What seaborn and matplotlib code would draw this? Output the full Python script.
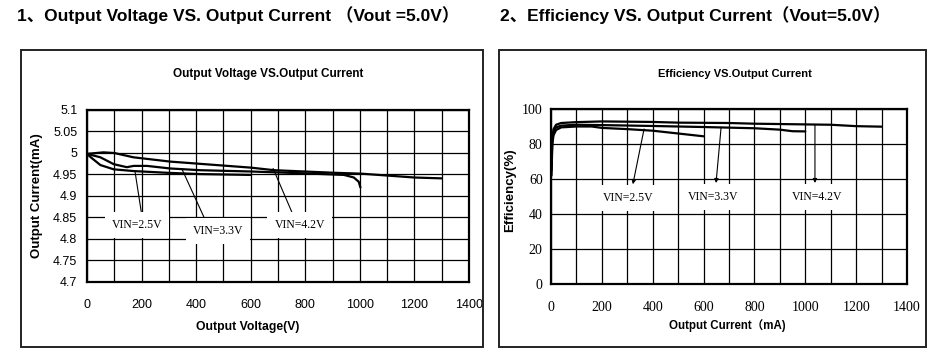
import numpy as np
import pandas as pd
import seaborn as sns
import matplotlib.pyplot as plt
from matplotlib.patches import Rectangle
from matplotlib.ticker import FuncFormatter, MultipleLocator

# Output voltage vs output current (left chart)
v25_x = [0, 12, 49, 98, 171, 293, 415, 600]
v25_y = [4.998, 4.991, 4.972, 4.962, 4.958, 4.954, 4.951, 4.949]
v33_x = [0, 49, 98, 146, 171, 220, 305, 415, 600, 783, 942, 978, 996, 1002]
v33_y = [4.998, 4.990, 4.974, 4.967, 4.970, 4.970, 4.964, 4.960, 4.957, 4.953, 4.949, 4.943, 4.933, 4.920]
v42_x = [0, 60, 100, 170, 305, 600, 686, 906, 1004, 1200, 1300]
v42_y = [4.998, 5.0015, 5.000, 4.990, 4.980, 4.966, 4.960, 4.954, 4.952, 4.943, 4.941]

# Efficiency vs output current (right chart)
e25_x = [2, 5, 10, 20, 40, 100, 160, 200, 300, 400, 500, 600]
e25_y = [62, 80, 85, 88, 89.5, 90, 90, 89.2, 88.5, 87.6, 86.0, 84.4]
e33_x = [2, 5, 10, 20, 40, 100, 200, 400, 600, 800, 900, 950, 1000]
e33_y = [65, 82, 87, 89.5, 90.5, 91, 90.8, 90.3, 89.7, 89.0, 88.2, 87.3, 87.2]
e42_x = [2, 5, 10, 20, 40, 100, 200, 400, 500, 700, 800, 1000, 1100, 1200, 1300]
e42_y = [68, 84, 88.5, 91, 92, 92.5, 92.9, 92.6, 92.2, 92.0, 91.6, 91.2, 91.0, 90.2, 89.9]

labels = ['VIN=2.5V', 'VIN=3.3V', 'VIN=4.2V']

# label text position, arrow start (on curve), arrow end (at label)
left_notes = [((183, 4.833), (176, 4.957), (203, 4.846)),
              ((480, 4.819), (347, 4.964), (440, 4.835)),
              ((780, 4.833), (682, 4.964), (762, 4.846))]
right_notes = [((303, 49), (366, 88.6), (322, 57)),
               ((637, 49.7), (669, 89.7), (649, 57.7)),
               ((1046, 49.7), (1038, 90.8), (1038, 57.7))]

sns.set_style('white')
sans = ['Liberation Sans', 'DejaVu Sans']
head = ['Liberation Sans', 'Noto Sans CJK SC', 'DejaVu Sans']
plt.rcParams['font.family'] = sans
plt.rcParams['text.color'] = 'black'
plt.rcParams['xtick.color'] = 'black'
plt.rcParams['ytick.color'] = 'black'

W, H = 942, 356
fig = plt.figure(figsize=(W / 100, H / 100), dpi=100)


def px_axes(x0, y0, x1, y1):
    return fig.add_axes([x0 / W, 1 - y1 / H, (x1 - x0) / W, (y1 - y0) / H])


def px_text(x, y, s, **kw):
    fig.text(x / W, 1 - y / H, s, ha='center', va='center', **kw)


# panel frames
for x0, y0, x1, y1 in [(21, 50, 483, 347), (499, 50, 926, 347)]:
    fig.patches.append(Rectangle((x0 / W, 1 - y1 / H), (x1 - x0) / W, (y1 - y0) / H,
                                 transform=fig.transFigure, fill=False, lw=1.4,
                                 edgecolor='#222222'))

px_text(238, 15, '1、Output Voltage VS. Output Current （Vout =5.0V）',
        fontsize=12.5, fontweight='bold', family=head)
px_text(695, 15, '2、Efficiency VS. Output Current（Vout=5.0V）',
        fontsize=12.5, fontweight='bold', family=head)


def style_axes(ax, ymaj, xpad, ypad):
    ax.xaxis.set_major_locator(MultipleLocator(200))
    ax.xaxis.set_minor_locator(MultipleLocator(100))
    ax.yaxis.set_major_locator(MultipleLocator(ymaj))
    ax.grid(True, which='both', color='black', lw=0.9)
    ax.tick_params(which='both', length=0)
    ax.tick_params(axis='x', pad=xpad)
    ax.tick_params(axis='y', pad=ypad)
    for sp in ax.spines.values():
        sp.set_visible(True)
        sp.set_color('black')
        sp.set_linewidth(1.6)
    ax.set_xlabel('')
    ax.set_ylabel('')


def add_notes(ax, notes, fs, family):
    for lab, (txt, start, end) in zip(labels, notes):
        ax.annotate('', xy=end, xytext=start,
                    arrowprops=dict(arrowstyle='-|>', color='black', lw=0.8,
                                    mutation_scale=6, shrinkA=0, shrinkB=0))
        ax.text(txt[0], txt[1], lab, ha='center', va='center', fontsize=fs,
                family=family, zorder=5,
                bbox=dict(boxstyle='square,pad=0.6', facecolor='white', edgecolor='none'))


# left chart
ax1 = px_axes(87, 110, 469, 282)
for xs, ys in [(v25_x, v25_y), (v33_x, v33_y), (v42_x, v42_y)]:
    sns.lineplot(x=xs, y=ys, ax=ax1, color='black', lw=1.6, estimator=None, sort=False)
ax1.set_xlim(0, 1400)
ax1.set_ylim(4.7, 5.1)
style_axes(ax1, 0.05, 12, 7)
ax1.yaxis.set_major_formatter(FuncFormatter(lambda v, p: '%g' % round(v, 2)))
for t in ax1.get_xticklabels() + ax1.get_yticklabels():
    t.set_fontsize(9)
add_notes(ax1, left_notes, 8.5, ['Liberation Serif'])

px_text(268, 74, 'Output Voltage VS.Output Current', fontsize=8.5, fontweight='bold')
px_text(248, 327, 'Output Voltage(V)', fontsize=8.8, fontweight='bold')
px_text(37, 196, 'Output Current(mA)', fontsize=9.5, fontweight='bold', rotation=90)

# right chart
ax2 = px_axes(551, 109, 907, 284)
for xs, ys in [(e25_x, e25_y), (e33_x, e33_y), (e42_x, e42_y)]:
    sns.lineplot(x=xs, y=ys, ax=ax2, color='black', lw=1.6, estimator=None, sort=False)
ax2.set_xlim(0, 1400)
ax2.set_ylim(0, 100)
style_axes(ax2, 20, 12, 6)
for t in ax2.get_xticklabels() + ax2.get_yticklabels():
    t.set_fontsize(10)
    t.set_family('Liberation Serif')
add_notes(ax2, right_notes, 8.5, ['Liberation Serif'])

px_text(735, 74, 'Efficiency VS.Output Current', fontsize=8, fontweight='bold')
px_text(727, 326, 'Output Current（mA)', fontsize=8.3, fontweight='bold',
        family=head)
px_text(510, 190, 'Efficiency(%)', fontsize=9.5, fontweight='bold', rotation=90)

fig.savefig('out.png', dpi=100)
